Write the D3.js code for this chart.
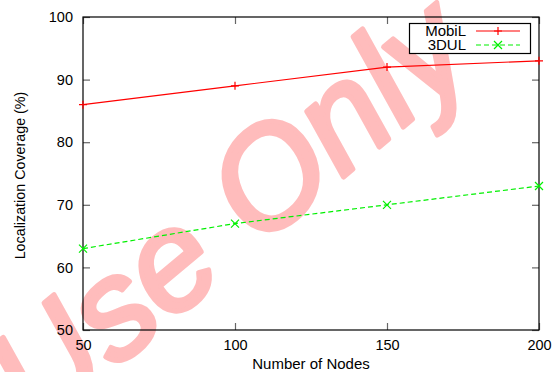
<!DOCTYPE html>
<html>
<head>
<meta charset="utf-8">
<script src="https://cdn.jsdelivr.net/npm/d3@7"></script>
<style>
 body{margin:0;background:#fff;}
 text{font-family:"Liberation Sans",Arial,sans-serif;fill:#000;}
</style>
</head>
<body>
<script>
// data
var nodes=[50,100,150,200]; // x categories
var mobil=[86,89,92,93]; // MobiL coverage (%)
var dul=[63,67,70,73]; // 3DUL coverage (%)
var xticks=[50,100,150,200];
var yticks=[50,60,70,80,90,100];
var names=['MobiL','3DUL'];
// layout
var wid=554, hgh=372;
var mgl=83, mgr=15, mgt=17, mgb=42;
var tick=7;
var svg=d3.select('body').append('svg').attr('width',wid).attr('height',hgh);
var xs=d3.scaleLinear().domain([50,200]).range([mgl,wid-mgr]);
var ys=d3.scaleLinear().domain([50,100]).range([hgh-mgb,mgt]);
// watermark
svg.append('text').attr('transform','translate(226,210) rotate(-40)')
  .attr('text-anchor','middle').attr('dy','0.36em')
  .style('font-size','140px').style('font-style','italic').style('fill','#ffbcbc')
  .style('stroke','#ffbcbc').style('stroke-width',5).style('stroke-linejoin','round').text('Use Only');
// axes (inward ticks, mirrored)
var ax=svg.append('g');
ax.append('g').attr('transform','translate(0,'+(hgh-mgb)+')')
  .call(d3.axisBottom(xs).tickValues(xticks).tickSizeInner(-tick).tickSizeOuter(0).tickPadding(10));
ax.append('g').attr('transform','translate(0,'+mgt+')')
  .call(d3.axisTop(xs).tickValues(xticks).tickSizeInner(-tick).tickSizeOuter(0).tickFormat(''));
ax.append('g').attr('transform','translate('+mgl+',0)')
  .call(d3.axisLeft(ys).tickValues(yticks).tickSizeInner(-tick).tickSizeOuter(0).tickPadding(10));
ax.append('g').attr('transform','translate('+(wid-mgr)+',0)')
  .call(d3.axisRight(ys).tickValues(yticks).tickSizeInner(-tick).tickSizeOuter(0).tickFormat(''));
ax.selectAll('.domain').remove();
ax.selectAll('.tick line').attr('stroke','#666').attr('stroke-width',1.2);
ax.selectAll('.tick text').style('font-size','14.5px').style('font-family','"Liberation Sans",Arial,sans-serif').attr('fill','#000');
svg.append('rect').attr('x',mgl).attr('y',mgt).attr('width',wid-mgr-mgl).attr('height',hgh-mgb-mgt)
  .attr('fill','none').attr('stroke','#000').attr('stroke-width',1.2);
// axis titles
svg.append('text').attr('x',(mgl+wid-mgr)/2).attr('y',hgh-3).attr('text-anchor','middle')
  .style('font-size','15px').text('Number of Nodes');
svg.append('text').attr('transform','translate(25,'+((mgt+hgh-mgb)/2+2)+') rotate(-90)').attr('text-anchor','middle')
  .style('font-size','14.3px').text('Localization Coverage (%)');
// series
function plus(g,x,y,c){g.append('path').attr('d','M'+(x-4)+','+y+'h8M'+x+','+(y-4)+'v8').attr('stroke',c).attr('stroke-width',1.2);}
function cross(g,x,y,c){g.append('path').attr('d','M'+(x-4)+','+(y-4)+'l8,8M'+(x-4)+','+(y+4)+'l8,-8').attr('stroke',c).attr('stroke-width',1.2);}
var line=d3.line().x(function(d){return xs(d[0]);}).y(function(d){return ys(d[1]);});
var ser=[{v:mobil,c:'#ff0000',dash:null,m:plus},{v:dul,c:'#00f000',dash:'5,3',m:cross}];
ser.forEach(function(s){
 var pts=nodes.map(function(n,i){return [n,s.v[i]];});
 svg.append('path').attr('d',line(pts)).attr('fill','none').attr('stroke',s.c)
   .attr('stroke-width',1.2).attr('stroke-dasharray',s.dash);
 pts.forEach(function(p){s.m(svg,xs(p[0]),ys(p[1]),s.c);});
});
// legend
var lg=svg.append('g');
lg.append('rect').attr('x',409.5).attr('y',23.5).attr('width',121).attr('height',30)
  .attr('fill','#fff').attr('stroke','#000').attr('stroke-width',1.2);
ser.forEach(function(s,i){
 var y=31+i*14;
 lg.append('text').attr('x',466).attr('y',y).attr('dy','0.35em').attr('text-anchor','end')
   .style('font-size','15px').text(names[i]);
 lg.append('line').attr('x1',476).attr('x2',520).attr('y1',y).attr('y2',y)
   .attr('stroke',s.c).attr('stroke-width',1.2).attr('stroke-dasharray',s.dash);
 s.m(lg,498,y,s.c);
});
</script>
</body>
</html>
